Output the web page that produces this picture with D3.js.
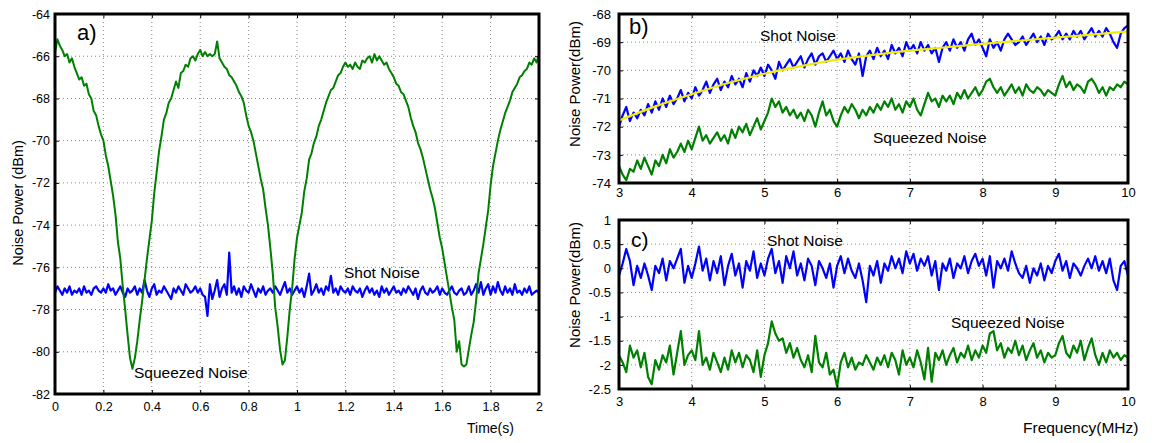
<!DOCTYPE html>
<html>
<head>
<meta charset="utf-8">
<script src="https://cdn.jsdelivr.net/npm/d3@7"></script>
<style>
  body { margin: 0; background: #fff; }
  svg { display: block; font-family: "Liberation Sans", Arial, sans-serif; }
</style>
</head>
<body>
<div id="chart"></div>
<script>
// ---------------- data ----------------
// panel a: time axis, sampled every 0.01 s from 0 to 2 s
const timeStepA = 0.01;
const squeezedA = [
  -65.8,-65.2,-65.5,-65.7,-66.0,-65.9,-66.3,-66.1,-66.5,-66.8,
  -67.1,-67.0,-67.4,-67.3,-67.8,-68.0,-68.6,-68.8,-69.3,-69.7,
  -70.0,-70.7,-71.2,-71.9,-72.6,-73.5,-74.8,-75.6,-76.9,-78.0,
  -79.2,-80.3,-80.8,-80.3,-79.5,-78.5,-77.6,-76.6,-75.6,-74.7,
  -73.8,-72.5,-71.5,-70.5,-69.8,-69.0,-68.7,-68.2,-68.0,-67.6,
  -67.2,-67.5,-66.8,-66.7,-66.4,-66.5,-66.1,-66.0,-66.2,-65.9,
  -65.7,-66.0,-65.8,-66.0,-65.9,-66.0,-65.9,-65.3,-66.1,-66.3,
  -66.5,-66.6,-66.9,-67.0,-67.2,-67.4,-67.7,-67.9,-68.2,-68.8,
  -69.3,-69.6,-70.0,-70.6,-71.2,-71.8,-72.3,-73.2,-74.0,-75.1,
  -76.3,-77.9,-78.8,-79.9,-80.6,-80.4,-79.3,-78.0,-77.0,-75.6,
  -74.6,-74.0,-73.4,-72.4,-71.8,-70.9,-70.6,-70.1,-69.8,-69.3,
  -69.0,-68.6,-68.2,-67.9,-67.6,-67.5,-67.2,-66.9,-66.8,-66.5,
  -66.3,-66.5,-66.4,-66.6,-66.3,-66.5,-66.6,-66.2,-66.3,-66.1,
  -66.0,-66.3,-65.9,-66.2,-66.0,-66.2,-66.4,-66.3,-66.6,-66.8,
  -67.0,-67.3,-67.4,-67.7,-67.8,-68.1,-68.4,-68.9,-69.3,-69.6,
  -70.1,-70.4,-70.8,-71.3,-71.8,-72.3,-72.7,-73.2,-73.9,-74.6,
  -75.1,-75.8,-76.5,-77.2,-77.9,-78.5,-80.0,-79.5,-80.6,-80.7,
  -80.6,-79.9,-79.2,-78.6,-77.6,-76.3,-75.6,-74.9,-74.1,-73.3,
  -72.1,-71.2,-70.6,-70.0,-69.5,-69.1,-68.7,-68.4,-68.1,-67.7,
  -67.5,-67.3,-67.0,-66.9,-66.7,-66.6,-66.3,-66.4,-66.1,-66.3,
  -65.9
];
const shotA = [
  -77.2,-76.9,-77.1,-77.3,-77.0,-77.2,-76.9,-77.3,-77.1,-77.2,
  -77.0,-77.3,-76.9,-77.2,-77.1,-77.3,-77.0,-76.9,-77.1,-77.2,
  -77.0,-77.2,-76.8,-77.1,-77.0,-77.3,-77.1,-76.9,-77.2,-77.4,
  -77.0,-77.2,-77.1,-76.9,-77.3,-77.0,-77.2,-76.6,-77.1,-77.4,
  -77.0,-76.8,-77.3,-77.1,-77.2,-76.9,-77.1,-77.3,-77.5,-77.0,
  -77.2,-76.9,-77.1,-77.3,-76.8,-77.0,-77.2,-77.1,-76.9,-77.2,
  -77.0,-77.3,-77.4,-78.3,-76.8,-77.5,-77.1,-76.6,-77.4,-77.0,
  -76.8,-77.3,-75.3,-77.2,-76.9,-77.3,-77.0,-77.4,-76.9,-77.1,
  -77.2,-76.8,-77.1,-77.4,-77.0,-77.2,-76.9,-77.3,-77.1,-77.0,
  -77.2,-76.9,-77.1,-77.3,-77.0,-76.7,-77.2,-77.0,-77.3,-77.1,
  -76.9,-77.2,-77.0,-77.4,-76.9,-76.3,-77.3,-77.1,-76.8,-77.2,
  -77.0,-77.3,-76.9,-77.1,-76.4,-77.2,-77.0,-77.3,-76.9,-77.1,
  -77.2,-77.0,-77.3,-76.9,-77.1,-77.2,-77.0,-77.4,-77.1,-76.9,
  -77.2,-77.0,-77.3,-77.1,-77.4,-76.9,-77.2,-77.0,-77.3,-77.1,
  -76.9,-77.2,-77.1,-77.3,-77.0,-77.2,-76.9,-77.1,-77.3,-77.0,
  -77.5,-77.1,-76.9,-77.2,-77.3,-77.0,-77.2,-77.1,-76.9,-77.3,
  -77.0,-77.2,-77.3,-77.1,-76.9,-77.2,-77.3,-77.1,-77.0,-77.3,
  -77.2,-76.9,-77.3,-77.1,-76.8,-77.2,-76.7,-77.3,-77.0,-76.8,
  -77.3,-76.9,-77.2,-76.7,-77.1,-77.3,-76.9,-77.2,-77.0,-77.3,
  -76.8,-77.2,-77.1,-77.3,-77.0,-77.2,-76.9,-77.3,-77.2,-77.1,
  -77.2
];

// panels b and c: frequency axis, sampled every 0.05 MHz from 3 to 10 MHz
const freqStart = 3;
const freqStep = 0.05;
const shotB = [
  -72.0,-71.6,-71.3,-71.8,-71.5,-71.7,-71.4,-71.6,-71.2,-71.5,
  -71.1,-71.4,-71.0,-71.3,-70.9,-71.2,-71.0,-70.7,-71.1,-70.8,
  -71.0,-70.6,-70.9,-70.7,-70.4,-70.8,-70.5,-70.3,-70.7,-70.4,
  -70.6,-70.2,-70.5,-70.3,-70.6,-70.1,-70.4,-70.0,-70.2,-69.9,
  -70.2,-69.8,-70.0,-70.3,-69.7,-70.0,-69.8,-69.6,-69.9,-69.7,
  -69.5,-69.9,-69.6,-69.4,-69.8,-69.5,-69.4,-69.7,-69.5,-69.3,
  -69.6,-69.4,-69.7,-69.3,-69.6,-69.8,-69.4,-70.2,-69.5,-69.3,
  -69.6,-69.2,-69.5,-69.3,-69.6,-69.1,-69.4,-69.2,-69.5,-69.0,
  -69.3,-69.1,-69.4,-69.0,-69.3,-69.1,-69.4,-69.2,-69.7,-69.2,
  -69.0,-69.3,-68.9,-69.2,-69.0,-69.3,-68.9,-68.7,-69.1,-68.9,
  -69.2,-69.5,-68.9,-69.2,-69.0,-69.3,-68.9,-68.7,-68.9,-69.1,
  -69.0,-68.8,-69.1,-68.9,-68.7,-69.0,-68.8,-69.1,-68.7,-68.9,
  -68.8,-68.6,-68.9,-68.7,-68.9,-68.6,-68.8,-68.6,-68.9,-68.7,
  -68.5,-68.8,-68.6,-68.8,-68.5,-68.7,-69.0,-69.2,-68.7,-68.5,
  -68.4
];
const squeezedB = [
  -73.4,-73.7,-73.9,-73.5,-73.6,-73.2,-73.5,-73.1,-73.4,-73.7,
  -73.2,-73.4,-73.0,-73.3,-72.8,-73.1,-72.9,-72.6,-72.9,-72.5,
  -72.8,-72.4,-72.0,-72.5,-72.3,-72.6,-72.4,-72.2,-72.5,-72.3,
  -72.6,-72.1,-72.4,-72.0,-72.2,-71.9,-72.3,-72.0,-71.7,-72.1,
  -71.8,-71.5,-71.0,-71.3,-71.1,-71.5,-71.3,-71.6,-71.4,-71.7,
  -71.5,-71.8,-71.4,-71.6,-72.0,-71.5,-71.1,-71.6,-71.4,-71.8,
  -72.0,-71.6,-71.3,-71.5,-71.2,-71.4,-71.7,-71.4,-71.6,-71.3,
  -71.5,-71.2,-71.4,-71.1,-71.3,-71.0,-71.4,-71.2,-71.5,-71.1,
  -71.3,-71.0,-71.4,-71.6,-71.2,-70.8,-71.1,-71.0,-71.3,-70.9,
  -71.1,-70.9,-71.2,-70.8,-71.0,-70.7,-71.0,-70.8,-70.6,-70.9,
  -70.7,-70.4,-70.3,-70.6,-70.8,-70.6,-70.9,-70.7,-70.5,-70.8,
  -70.6,-70.9,-70.5,-70.7,-70.8,-70.6,-70.7,-70.9,-70.7,-70.8,
  -70.9,-70.5,-70.2,-70.6,-70.4,-70.7,-70.5,-70.6,-70.8,-70.4,
  -70.3,-70.5,-70.8,-70.6,-70.9,-70.6,-70.7,-70.5,-70.6,-70.4,
  -70.5
];
// fitted shot-noise curve in panel b
const fitFreq = [3, 3.5, 4, 4.5, 5, 5.5, 6, 6.5, 7, 7.5, 8, 8.5, 9, 9.5, 10];
const fitB = [-71.78, -71.28, -70.85, -70.45, -70.12, -69.85, -69.62, -69.45,
              -69.30, -69.18, -69.06, -68.95, -68.84, -68.73, -68.62];

const shotC = [
  -0.15, 0.10, 0.40, 0.15,-0.35, 0.05,-0.20, 0.10,-0.15,-0.45,
   0.05,-0.10, 0.20,-0.25, 0.15, 0.00, 0.20, 0.40,-0.30, 0.05,
  -0.20, 0.10, 0.45,-0.05, 0.20,-0.25, 0.15,-0.10, 0.25,-0.35,
   0.05, 0.30,-0.15, 0.10,-0.40, 0.15,-0.05, 0.35,-0.20, 0.10,
  -0.15, 0.20, 0.40,-0.10, 0.15,-0.30, 0.25, 0.00, 0.35,-0.15,
   0.10,-0.25, 0.20, 0.05,-0.35, 0.15, 0.00,-0.20, 0.10,-0.40,
   0.05, 0.25,-0.10, 0.20,-0.05,-0.20, 0.10,-0.25,-0.70, 0.05,
  -0.15, 0.15,-0.30, 0.10,-0.05, 0.25, 0.00, 0.20,-0.10, 0.35,
   0.10, 0.30,-0.05, 0.20, 0.05, 0.25,-0.15, 0.15,-0.45, 0.10,
  -0.05, 0.20,-0.20, 0.10, 0.00, 0.25,-0.10, 0.15, 0.30, 0.05,
   0.20,-0.15, 0.25,-0.40, 0.15, 0.00, 0.20,-0.05, 0.35, 0.10,
  -0.10,-0.20, 0.05,-0.30, 0.00,-0.15, 0.10,-0.25, 0.05,-0.10,
   0.15, 0.30,-0.05, 0.15,-0.20, 0.10, 0.00,-0.15, 0.05, 0.20,
   0.00, 0.25,-0.05, 0.15,-0.10, 0.20,-0.25,-0.45, 0.05, 0.15,
  -0.15
];
const squeezedC = [
  -1.80,-1.95,-2.15,-1.60,-1.85,-1.70,-2.05,-1.75,-2.25,-2.40,
  -1.90,-2.10,-1.80,-1.95,-1.60,-2.20,-1.75,-1.30,-2.00,-1.80,
  -1.70,-1.90,-1.30,-2.00,-1.85,-2.10,-1.75,-1.95,-2.15,-1.85,
  -2.10,-1.70,-1.95,-1.75,-2.05,-1.80,-1.90,-2.15,-1.70,-2.25,
  -1.80,-1.55,-1.10,-1.35,-1.50,-1.45,-1.75,-1.55,-1.85,-1.65,
  -1.90,-2.05,-1.80,-2.15,-1.40,-1.95,-2.05,-1.75,-2.20,-2.10,
  -2.45,-1.95,-1.75,-2.05,-1.85,-2.10,-1.95,-2.00,-1.80,-1.95,
  -2.10,-1.85,-2.00,-1.80,-2.05,-1.75,-1.90,-2.20,-1.70,-2.00,
  -1.85,-2.05,-1.70,-1.95,-2.30,-1.65,-2.35,-1.75,-1.90,-1.70,
  -2.00,-1.80,-1.65,-1.95,-1.75,-1.85,-1.60,-1.90,-1.70,-1.85,
  -1.60,-1.75,-1.35,-1.30,-1.70,-1.55,-1.85,-1.65,-1.75,-1.50,
  -1.80,-1.60,-1.90,-1.70,-1.55,-1.85,-1.70,-1.95,-1.75,-1.85,
  -1.80,-1.55,-1.40,-1.75,-1.85,-1.60,-1.75,-1.50,-1.90,-1.65,
  -1.45,-1.80,-2.00,-1.75,-1.95,-1.70,-1.85,-1.75,-1.90,-1.80,
  -1.85
];

// tick labels
const ticksTime = [0, 0.2, 0.4, 0.6, 0.8, 1, 1.2, 1.4, 1.6, 1.8, 2];
const ticksPowerA = [-82, -80, -78, -76, -74, -72, -70, -68, -66, -64];
const ticksFreq = [3, 4, 5, 6, 7, 8, 9, 10];
const ticksPowerB = [-74, -73, -72, -71, -70, -69, -68];
const ticksPowerC = [-2.5, -2, -1.5, -1, -0.5, 0, 0.5, 1];

const GREEN = "#008000";
const BLUE = "#0000ff";
const YELLOW = "#f2ee00";

// ---------------- drawing ----------------
const W = 1154, H = 443;
const svg = d3.select("#chart").append("svg")
  .attr("width", W).attr("height", H)
  .style("background", "#fff");

const fmt = (d) => String(+d.toFixed(2));

function drawPanel(p) {
  const x = d3.scaleLinear().domain(p.xDomain).range([p.left, p.right]);
  const y = d3.scaleLinear().domain(p.yDomain).range([p.bottom, p.top]);
  const w = p.right - p.left, h = p.bottom - p.top;
  const g = svg.append("g");

  // dotted grid
  g.append("g")
    .selectAll("line.vg")
    .data(p.xTicks.slice(1, -1))
    .join("line")
    .attr("x1", (d) => x(d)).attr("x2", (d) => x(d))
    .attr("y1", p.top).attr("y2", p.bottom)
    .attr("stroke", "#8a8a8a").attr("stroke-width", 1)
    .attr("stroke-dasharray", "1,3");
  g.append("g")
    .selectAll("line.hg")
    .data(p.yTicks.slice(1, -1))
    .join("line")
    .attr("x1", p.left).attr("x2", p.right)
    .attr("y1", (d) => y(d)).attr("y2", (d) => y(d))
    .attr("stroke", "#8a8a8a").attr("stroke-width", 1)
    .attr("stroke-dasharray", "1,3");

  // series
  const line = d3.line().x((d) => x(d[0])).y((d) => y(d[1]));
  p.series.forEach((s) => {
    const pts = s.values.map((v, i) => [s.xs ? s.xs[i] : s.start + i * s.step, v]);
    g.append("path")
      .datum(pts)
      .attr("fill", "none")
      .attr("stroke", s.color)
      .attr("stroke-width", s.width || 2)
      .attr("stroke-linejoin", "round")
      .attr("d", s.curve ? line.curve(s.curve)(pts) : line.curve(d3.curveLinear)(pts));
  });

  // axes with inward ticks
  const ax = (gen, tr) => {
    const a = g.append("g").attr("transform", tr).call(gen);
    a.select(".domain").remove();
    a.selectAll("line").attr("stroke", "#000");
    a.selectAll("text")
      .attr("fill", "#000")
      .style("font-size", p.tickFont + "px")
      .style("font-family", '"Liberation Sans", Arial, sans-serif');
    return a;
  };
  ax(d3.axisBottom(x).tickValues(p.xTicks).tickFormat(fmt).tickSize(-4).tickPadding(p.xPad),
     `translate(0,${p.bottom})`);
  ax(d3.axisLeft(y).tickValues(p.yTicks).tickFormat(fmt).tickSize(-4).tickPadding(p.yPad),
     `translate(${p.left},0)`);
  ax(d3.axisTop(x).tickValues(p.xTicks).tickFormat("").tickSize(-4),
     `translate(0,${p.top})`);
  ax(d3.axisRight(y).tickValues(p.yTicks).tickFormat("").tickSize(-4),
     `translate(${p.right},0)`);

  // frame
  g.append("rect")
    .attr("x", p.left).attr("y", p.top)
    .attr("width", w).attr("height", h)
    .attr("fill", "none").attr("stroke", "#000").attr("stroke-width", 3);

  // texts
  p.texts.forEach((t) => {
    const el = g.append("text")
      .attr("x", t.x).attr("y", t.y)
      .attr("fill", "#000")
      .style("font-size", t.size + "px")
      .attr("text-anchor", t.anchor || "start")
      .text(t.text);
    if (t.rotate) el.attr("transform", `rotate(-90,${t.x},${t.y})`);
  });
}

drawPanel({
  left: 55, right: 539, top: 14, bottom: 394,
  xDomain: [0, 2], yDomain: [-82, -64],
  xTicks: ticksTime, yTicks: ticksPowerA,
  tickFont: 12.5, xPad: 8, yPad: 5,
  series: [
    { values: shotA, start: 0, step: timeStepA, color: BLUE, width: 2.2 },
    { values: squeezedA, start: 0, step: timeStepA, color: GREEN, width: 2 }
  ],
  texts: [
    { text: "a)", x: 77, y: 40, size: 22 },
    { text: "Shot Noise", x: 344, y: 278, size: 15.5 },
    { text: "Squeezed Noise", x: 134, y: 378, size: 15.5 },
    { text: "Time(s)", x: 467, y: 433, size: 14 },
    { text: "Noise Power (dBm)", x: 23, y: 203, size: 14.5, anchor: "middle", rotate: true }
  ]
});

drawPanel({
  left: 619, right: 1128, top: 14, bottom: 183,
  xDomain: [3, 10], yDomain: [-74, -68],
  xTicks: ticksFreq, yTicks: ticksPowerB,
  tickFont: 13, xPad: 5, yPad: 8,
  series: [
    { values: shotB, start: freqStart, step: freqStep, color: BLUE, width: 2.2 },
    { values: squeezedB, start: freqStart, step: freqStep, color: GREEN, width: 2.2 },
    { values: fitB, xs: fitFreq, color: YELLOW, width: 2.2, curve: d3.curveMonotoneX }
  ],
  texts: [
    { text: "b)", x: 629, y: 34, size: 22 },
    { text: "Shot Noise", x: 760, y: 41, size: 15.5 },
    { text: "Squeezed Noise", x: 873, y: 143, size: 15.5 },
    { text: "Noise Power(dBm)", x: 580, y: 84, size: 15, anchor: "middle", rotate: true }
  ]
});

drawPanel({
  left: 619, right: 1128, top: 220, bottom: 389,
  xDomain: [3, 10], yDomain: [-2.5, 1],
  xTicks: ticksFreq, yTicks: ticksPowerC,
  tickFont: 13, xPad: 8, yPad: 8,
  series: [
    { values: shotC, start: freqStart, step: freqStep, color: BLUE, width: 2.2 },
    { values: squeezedC, start: freqStart, step: freqStep, color: GREEN, width: 2.2 }
  ],
  texts: [
    { text: "c)", x: 631, y: 247, size: 21 },
    { text: "Shot Noise", x: 767, y: 246, size: 15.5 },
    { text: "Squeezed Noise", x: 951, y: 328, size: 15.5 },
    { text: "Frequency(MHz)", x: 1023, y: 433, size: 15.5 },
    { text: "Noise Power(dBm)", x: 580, y: 285, size: 15, anchor: "middle", rotate: true }
  ]
});
</script>
</body>
</html>
